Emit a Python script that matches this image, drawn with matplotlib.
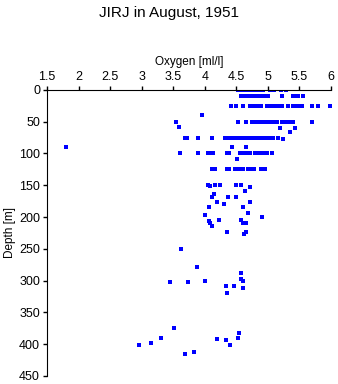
import numpy as np
import matplotlib.pyplot as plt

# oxygen values (ml/l), grouped by sampling depth (m)
o2_0m = [4.53, 4.56, 4.59, 4.62, 4.65, 4.68, 4.71, 4.74, 4.77, 4.8, 4.83, 4.86, 4.89, 4.92,
         5.03, 5.06, 5.1, 5.21, 5.29]
o2_10m = [4.57, 4.6, 4.63, 4.66, 4.69, 4.72, 4.75, 4.78, 4.81, 4.84, 4.87, 4.9, 4.92,
          4.95, 4.98, 5.01, 5.22, 5.4, 5.44, 5.48, 5.56]
o2_26m = [4.42, 4.5, 4.6, 4.72, 4.75, 4.78, 4.81, 4.83, 4.9, 4.99, 5.02, 5.05, 5.08, 5.11,
          5.14, 5.17, 5.2, 5.22, 5.32, 5.4, 5.44, 5.48, 5.54, 5.7, 5.8, 5.99]
o2_50m = [3.55, 4.53, 4.65, 4.75, 4.78, 4.81, 4.84, 4.87, 4.9, 4.93, 4.96, 4.99, 5.02,
          5.05, 5.08, 5.14, 5.22, 5.25, 5.28, 5.31, 5.34, 5.37, 5.4, 5.7]
o2_75m = [3.69, 3.72, 3.89, 4.11, 4.32, 4.38, 4.44, 4.5, 4.56, 4.6, 4.64, 4.68, 4.72, 4.76,
          4.8, 4.84, 4.88, 4.92, 4.96, 4.99, 5.03, 5.08, 5.16]
o2_100m = [3.61, 3.89, 4.05, 4.09, 4.13, 4.35, 4.38, 4.56, 4.6, 4.64, 4.68, 4.72, 4.8,
           4.84, 4.88, 4.92, 4.96, 4.99, 5.07]
o2_125m = [4.11, 4.14, 4.16, 4.35, 4.38, 4.48, 4.52, 4.56, 4.6, 4.68, 4.75, 4.78, 4.9, 4.95]
o2_150m = [4.05, 4.17, 4.24, 4.5, 4.57]

# single, scattered samples
o2_other = [3.95, 3.6, 5.2, 5.43, 5.35, 5.24, 1.8, 4.44, 4.66, 4.51, 4.08, 4.72,
            4.15, 4.64, 4.11, 4.37, 4.5, 4.19, 4.71, 4.31, 4.07, 4.61, 4.69, 4.0,
            4.91, 4.23, 4.57, 4.06, 4.09, 4.6, 4.66, 4.11, 4.36, 4.65, 4.63, 3.62,
            3.87, 4.57, 4.57, 4.0, 4.61, 3.45, 3.74, 4.47, 4.34, 4.6, 4.36, 3.52,
            4.55, 3.31, 4.52, 4.19, 4.34, 3.15, 2.96, 4.4, 3.83, 3.69]
depth_other = [40, 58, 60, 60, 66, 78, 90, 90, 90, 108, 152, 153,
               164, 159, 169, 169, 169, 176, 176, 180, 185, 185, 193, 197,
               200, 204, 204, 206, 209, 209, 209, 214, 224, 224, 227, 250,
               278, 288, 298, 300, 300, 303, 303, 308, 309, 312, 320, 375,
               382, 390, 390, 392, 393, 398, 401, 402, 413, 415]

levels = [0, 10, 26, 50, 75, 100, 125, 150]
rows = [o2_0m, o2_10m, o2_26m, o2_50m, o2_75m, o2_100m, o2_125m, o2_150m]

oxygen = np.concatenate([np.array(r) for r in rows] + [np.array(o2_other)])
depth = np.concatenate([np.full(len(r), d) for r, d in zip(rows, levels)] + [np.array(depth_other)])

plt.rcParams['font.family'] = ['Liberation Sans', 'DejaVu Sans']

fig = plt.figure(figsize=(3.38, 3.84), dpi=100)
ax = fig.add_axes([0.139, 0.021, 0.840, 0.745])

ax.plot(oxygen, depth, 's', color='#0000ff', ms=2.3, mew=0, linestyle='none')

ax.set_xlim(1.5, 6)
ax.set_ylim(450, 0)
ax.set_xticks(np.arange(1.5, 6.01, 0.5))
ax.set_xticklabels(['1.5', '2', '2.5', '3', '3.5', '4', '4.5', '5', '5.5', '6'])
ax.set_yticks(np.arange(0, 451, 50))

ax.xaxis.tick_top()
ax.xaxis.set_label_position('top')
ax.spines['right'].set_visible(False)
ax.spines['bottom'].set_visible(False)
ax.tick_params(direction='out', length=3, width=1, labelsize=9, pad=2)
ax.set_xlabel('Oxygen [ml/l]', fontsize=8.5, labelpad=4)
ax.set_ylabel('Depth [m]', fontsize=8.5, labelpad=2)

fig.text(0.5, 0.965, 'JIRJ in August, 1951', ha='center', va='center', fontsize=11)

plt.savefig('out.png', dpi=100)
